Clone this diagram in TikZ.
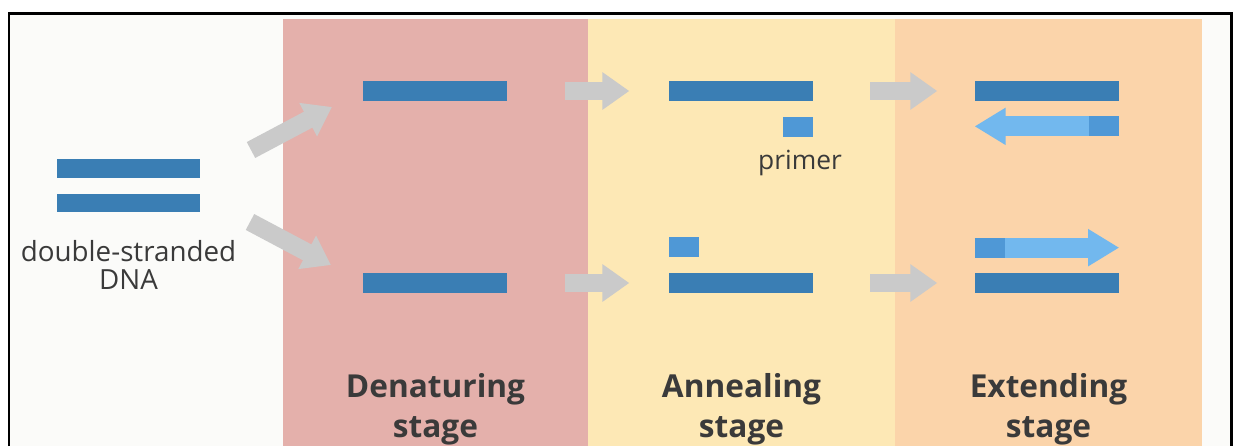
\documentclass[tikz,border=0pt]{standalone}
\usepackage{fontspec}
\setmainfont{Open Sans}
\usetikzlibrary{arrows.meta}
\definecolor{PaperWhite}{HTML}{FBFBF9}
\definecolor{DenatureRed}{HTML}{E4B0AB}
\definecolor{AnnealYellow}{HTML}{FDE8B5}
\definecolor{ExtendOrange}{HTML}{FBD4AA}
\definecolor{StrandBlue}{HTML}{3A7EB4}
\definecolor{PrimerBlue}{HTML}{4F98D6}
\definecolor{NewBlue}{HTML}{72B8EE}
\definecolor{ArrowGray}{HTML}{CACACA}
\definecolor{LabelGray}{HTML}{3A3A3A}

\begin{document}
\begin{tikzpicture}[x=0.02cm, y=-0.02cm, node distance=6.12cm,
    strand/.style={fill=StrandBlue, inner sep=0, minimum width=2.88cm, minimum height=0.4cm},
    primer/.style={fill=PrimerBlue, inner sep=0, minimum width=0.6cm, minimum height=0.4cm},
    grayflow/.style={ArrowGray, line width=0.36cm, -{Triangle[length=0.54cm, width=0.72cm]}},
    newstrand/.style={NewBlue, line width=0.4cm, -{Triangle[length=0.62cm, width=0.7cm]}},
    smalltext/.style={text=LabelGray, font=\fontsize{15}{13.7}\selectfont, align=center, inner sep=0},
    stagelabel/.style={text=LabelGray, font=\fontsize{18}{23}\selectfont\bfseries, align=center, anchor=north, inner sep=0}]
    \useasboundingbox (0,0) rectangle (1233,446);
    \fill[white] (0,0) rectangle (1233,446);
    \fill[PaperWhite] (9,14) rectangle (1231,446);
    \fill[DenatureRed] (283,19) rectangle (588,446);
    \fill[AnnealYellow] (588,19) rectangle (895,446);
    \fill[ExtendOrange] (895,19) rectangle (1202,446);
    \draw[line width=0.06cm] (9,446) -- (9,14) -- (1231,14) -- (1231,446);

    \node[strand, minimum height=0.38cm] (dsTop) at (128.5,168.5) {};
    \node[strand, minimum height=0.38cm] (dsBot) at (128.5,203) {};
    \node[smalltext, font=\fontsize{15.8}{16}\selectfont, anchor=north] (dsLabel) at (128.5,240) {double-stranded\\DNA};

    \node[strand] (denTop) at (435,91) {};
    \node[strand] (denBot) at (435,283) {};
    \node[strand, right of=denTop] (annTop) {};
    \node[strand, right of=denBot] (annBot) {};
    \node[strand, right of=annTop] (extTop) {};
    \node[strand, right of=annBot] (extBot) {};

    \node[primer, anchor=north east] (annPrimerTop) at ([yshift=-0.3cm]annTop.south east) {};
    \node[primer, anchor=south west] (annPrimerBot) at ([yshift=0.3cm]annBot.north west) {};
    \node[smalltext, anchor=base] (primerLabel) at (800,169) {primer};

    \coordinate (splitFrom) at (251,150);
    \coordinate (splitTo) at (332,107);
    \coordinate (meltFrom) at (250,222);
    \coordinate (meltTo) at (331,265);
    \draw[grayflow] (splitFrom) -- (splitTo);
    \draw[grayflow] (meltFrom) -- (meltTo);
    \draw[grayflow] ([xshift=1.16cm]denTop.east) -- ([xshift=2.44cm]denTop.east);
    \draw[grayflow] ([xshift=1.16cm]denBot.east) -- ([xshift=2.44cm]denBot.east);
    \draw[grayflow] ([xshift=1.14cm]annTop.east) -- ([xshift=2.48cm]annTop.east);
    \draw[grayflow] ([xshift=1.14cm]annBot.east) -- ([xshift=2.48cm]annBot.east);

    \coordinate (extTopStart) at ([yshift=-0.5cm]extTop.south east);
    \coordinate (extTopEnd) at ([yshift=-0.5cm]extTop.south west);
    \coordinate (extBotStart) at ([yshift=0.5cm]extBot.north west);
    \coordinate (extBotEnd) at ([yshift=0.5cm]extBot.north east);
    \draw[newstrand] (extTopStart) -- (extTopEnd);
    \draw[newstrand] (extBotStart) -- (extBotEnd);
    \node[primer, anchor=east] (extPrimerTop) at (extTopStart) {};
    \node[primer, anchor=west] (extPrimerBot) at (extBotStart) {};

    \node[stagelabel] (denLabel) at (435.5,373) {Denaturing\\stage};
    \node[stagelabel] (annLabel) at (741.5,373) {Annealing\\stage};
    \node[stagelabel] (extLabel) at (1048.5,373) {Extending\\stage};
\end{tikzpicture}
\end{document}
